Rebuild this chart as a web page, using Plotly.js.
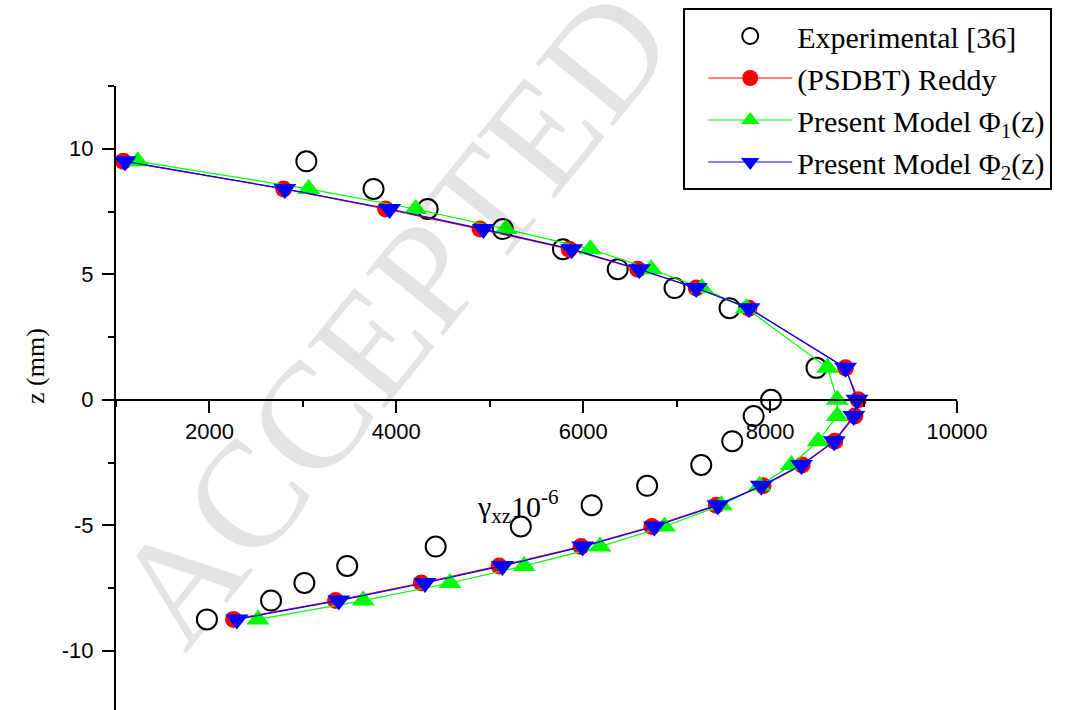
<!DOCTYPE html>
<html>
<head>
<meta charset="utf-8">
<script src="https://cdn.plot.ly/plotly-3.0.1.min.js"></script>
<style>
  html, body { margin: 0; padding: 0; background: #fff; }
  #chart { width: 1071px; height: 710px; }
</style>
</head>
<body>
<div id="chart"></div>
<script>
// z positions through the thickness (mm)
const zLevels = [9.5, 8.4, 7.6, 6.8, 6.0, 5.2, 4.45, 3.65, 1.27, 0, -0.65, -1.65, -2.6, -3.43, -4.2, -5.05, -5.85, -6.62, -7.3, -8.0, -8.75];

// shear strain gamma_xz (x 10^-6)
const experimental = [3037, 3756, 4335, 5139, 5783, 6369, 6977, 7566, 8496, 8010, 7824, 7595, 7263, 6684, 6090, 5332, 4421, 3474, 3016, 2659, 1973];
const reddy        = [1078, 2794, 3885, 4896, 5850, 6584, 7209, 7774, 8807, 8943, 8907, 8692, 8343, 7924, 7424, 6734, 5976, 5100, 4268, 3349, 2258];
const phi1         = [1233, 3062, 4206, 5172, 6076, 6727, 7270, 7745, 8614, 8718, 8718, 8514, 8228, 7888, 7477, 6869, 6180, 5368, 4574, 3646, 2520];
const phi2         = [1097, 2807, 3928, 4932, 5876, 6601, 7209, 7774, 8807, 8930, 8895, 8686, 8335, 7906, 7442, 6762, 5994, 5136, 4306, 3384, 2294];

const seriesNames = ["Experimental [36]", "(PSDBT) Reddy", "Present Model Φ<sub>1</sub>(z)", "Present Model Φ<sub>2</sub>(z)"];

const xTickVals = [2000, 4000, 6000, 8000, 10000];
const xTickText = ["2000", "4000", "6000", "8000", "10000"];
const yTickVals = [-10, -5, 0, 5, 10];
const yTickText = ["-10", "-5", "0", "5", "10"];

const W = 1071, H = 710;
const mL = 116, mR = 114.3, mT = 86, mB = 0;
const yTop = 12.5;
const pxPerUnitY = 25.1;
const plotH = H - mT - mB;
const yBottom = yTop - plotH / pxPerUnitY;
const xAxisPos = (0 - yBottom) / (yTop - yBottom);
const plotW = W - mL - mR;

const traces = [
  {
    x: experimental, y: zLevels, name: seriesNames[0], type: "scatter", mode: "markers",
    marker: { symbol: "circle-open", size: 20, color: "#000000", line: { width: 2, color: "#000000" } },
    cliponaxis: false
  },
  {
    x: reddy, y: zLevels, name: seriesNames[1], type: "scatter", mode: "lines+markers",
    line: { color: "#ff0000", width: 1.2 },
    marker: { symbol: "circle", size: 17, color: "#ff0000" },
    cliponaxis: false
  },
  {
    x: phi1, y: zLevels, name: seriesNames[2], type: "scatter", mode: "lines+markers",
    line: { color: "#00ff00", width: 1.2 },
    marker: { symbol: "triangle-up", size: 20, color: "#00ff00" },
    cliponaxis: false
  },
  {
    x: phi2, y: zLevels, name: seriesNames[3], type: "scatter", mode: "lines+markers",
    line: { color: "#0000ff", width: 1.2 },
    marker: { symbol: "triangle-down", size: 20, color: "#0000ff" },
    cliponaxis: false
  }
];

const axisFont = { family: "Liberation Sans, Arial, sans-serif", size: 22, color: "#000" };

const layout = {
  width: W, height: H,
  margin: { l: mL, r: mR, t: mT, b: mB, autoexpand: false },
  paper_bgcolor: "#ffffff",
  plot_bgcolor: "rgba(0,0,0,0)",
  showlegend: true,
  xaxis: {
    range: [1000, 10000],
    anchor: "free", position: xAxisPos,
    showgrid: false, zeroline: false,
    showline: true, linecolor: "#000", linewidth: 2,
    ticks: "outside", ticklen: 12, tickwidth: 2, tickcolor: "#000",
    tickmode: "array", tickvals: xTickVals, ticktext: xTickText,
    tickfont: axisFont,
    minor: { tickmode: "linear", tick0: 1000, dtick: 2000, ticks: "outside", ticklen: 6, tickwidth: 2, tickcolor: "#000", showgrid: false },
    fixedrange: true
  },
  yaxis: {
    range: [yBottom, yTop],
    showgrid: false, zeroline: false,
    showline: true, linecolor: "#000", linewidth: 2,
    ticks: "outside", ticklen: 12, tickwidth: 2, tickcolor: "#000",
    ticklabelstandoff: 4,
    tickmode: "array", tickvals: yTickVals, ticktext: yTickText,
    tickfont: axisFont,
    minor: { tickmode: "linear", tick0: -12.5, dtick: 5, ticks: "outside", ticklen: 6, tickwidth: 2, tickcolor: "#000", showgrid: false },
    fixedrange: true
  },
  legend: {
    x: (683 - mL) / plotW, y: 1 + (mT - 8) / plotH,
    xanchor: "left", yanchor: "top",
    bgcolor: "#ffffff", bordercolor: "#000000", borderwidth: 2,
    font: { family: "Liberation Serif, Times New Roman, serif", size: 30, color: "#000" },
    itemwidth: 84,
    indentation: 18,
    tracegroupgap: 0
  },
  annotations: [
    {
      text: "ACCEPTED",
      xref: "paper", yref: "paper",
      x: (392 - mL) / plotW, y: 1 - (318 - mT) / plotH,
      xanchor: "center", yanchor: "middle",
      showarrow: false, textangle: -51,
      font: { family: "Liberation Serif, Times New Roman, serif", size: 152, color: "rgba(0,0,0,0.11)" }
    },
    {
      text: "γ<sub>xz</sub>10<sup>-6</sup>",
      xref: "paper", yref: "paper",
      x: (518 - mL) / plotW, y: 1 - (506 - mT) / plotH,
      xanchor: "center", yanchor: "middle",
      showarrow: false,
      font: { family: "Liberation Serif, Times New Roman, serif", size: 30, color: "#000" }
    },
    {
      text: "z (mm)",
      xref: "paper", yref: "paper",
      x: (35 - mL) / plotW, y: 1 - (366 - mT) / plotH,
      xanchor: "center", yanchor: "middle",
      showarrow: false, textangle: -90,
      font: { family: "Liberation Serif, Times New Roman, serif", size: 26, color: "#000" }
    }
  ]
};

Plotly.newPlot("chart", traces, layout, { displayModeBar: false, staticPlot: true });
</script>
</body>
</html>
